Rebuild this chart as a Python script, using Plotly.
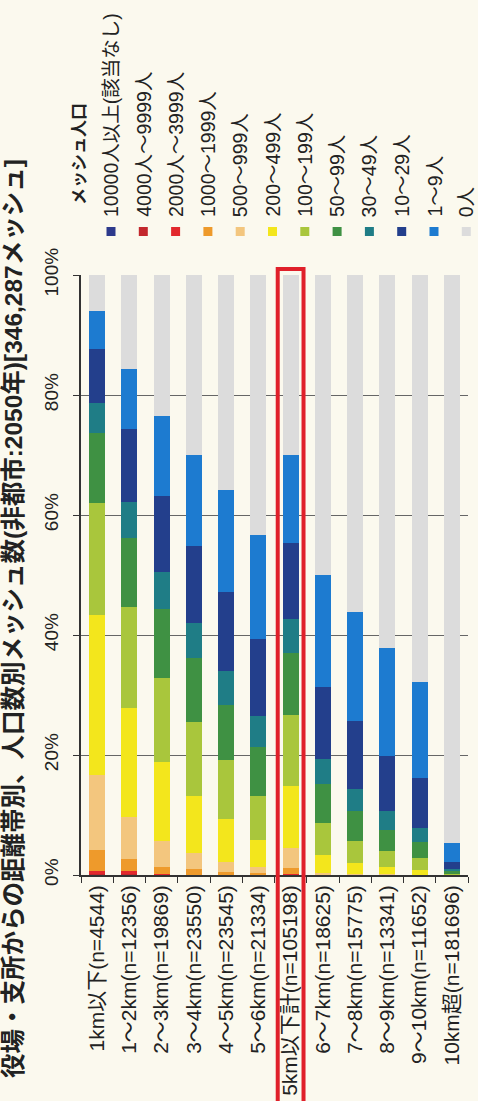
import plotly.graph_objects as go

# Distance bands from the town office / branch office (non-urban areas, 2050)
categories = [
    "1km以下(n=4544)",
    "1～2km(n=12356)",
    "2～3km(n=19869)",
    "3～4km(n=23550)",
    "4～5km(n=23545)",
    "5～6km(n=21334)",
    "5km以下計(n=105198)",
    "6～7km(n=18625)",
    "7～8km(n=15775)",
    "8～9km(n=13341)",
    "9～10km(n=11652)",
    "10km超(n=181696)",
]

# Share of meshes (%) in each population class, per distance band
pop_10000_plus = [0, 0, 0, 0, 0, 0, 0, 0, 0, 0, 0, 0]
pop_4000_9999 = [0.2, 0.2, 0, 0, 0, 0, 0.05, 0, 0, 0, 0, 0]
pop_2000_3999 = [0.5, 0.4, 0.1, 0.05, 0, 0, 0.1, 0, 0, 0, 0, 0]
pop_1000_1999 = [3.5, 2.1, 1.3, 1.0, 0.5, 0.3, 1.0, 0, 0, 0, 0, 0]
pop_500_999 = [12.5, 6.9, 4.3, 2.7, 1.7, 1.0, 3.3, 0.4, 0.2, 0.1, 0, 0]
pop_200_499 = [26.6, 18.2, 13.2, 9.5, 7.1, 4.6, 10.4, 3.0, 1.8, 1.2, 0.9, 0.05]
pop_100_199 = [18.7, 16.9, 13.9, 12.3, 9.8, 7.3, 11.9, 5.3, 3.6, 2.7, 1.9, 0.2]
pop_50_99 = [11.7, 11.5, 11.6, 10.6, 9.2, 8.2, 10.2, 6.4, 5.0, 3.5, 2.7, 0.4]
pop_30_49 = [5.0, 6.0, 6.1, 5.8, 5.7, 5.1, 5.7, 4.3, 3.8, 3.2, 2.3, 0.4]
pop_10_29 = [9.0, 12.1, 12.7, 12.9, 13.2, 12.8, 12.7, 11.9, 11.2, 9.2, 8.4, 1.2]
pop_1_9 = [6.3, 10.0, 13.3, 15.1, 16.9, 17.3, 14.6, 18.7, 18.3, 18.0, 15.9, 3.1]
pop_0 = [6.0, 15.7, 23.5, 30.1, 35.9, 43.4, 30.1, 50.0, 56.1, 62.1, 67.9, 94.65]

series_names = [
    "10000人以上(該当なし)",
    "4000人～9999人",
    "2000人～3999人",
    "1000～1999人",
    "500～999人",
    "200～499人",
    "100～199人",
    "50～99人",
    "30～49人",
    "10～29人",
    "1～9人",
    "0人",
]
series_values = [
    pop_10000_plus, pop_4000_9999, pop_2000_3999, pop_1000_1999,
    pop_500_999, pop_200_499, pop_100_199, pop_50_99,
    pop_30_49, pop_10_29, pop_1_9, pop_0,
]
series_colors = [
    "#2d3a8c", "#c3282d", "#e2282d", "#ee9a2b",
    "#f3c67e", "#f3e61c", "#a9c63c", "#3f9143",
    "#1f7d86", "#233f8c", "#1d7bd0", "#dcdcdc",
]

percent_ticks = [0, 20, 40, 60, 80, 100]
percent_labels = ["0%", "20%", "40%", "60%", "80%", "100%"]

title_text = "役場・支所からの距離帯別、人口数別メッシュ数(非都市:2050年)[346,287メッシュ]"
legend_title = "メッシュ人口"

W, H = 478, 1101
ML, MR, MT, MB = 81, 10, 275, 226
PW, PH = W - ML - MR, H - MT - MB

FONT = "Liberation Sans, Arial, Noto Sans CJK JP, sans-serif"
BG = "#fbf9ee"


def px_x(px):
    return (px - ML) / PW


def px_y(py):
    return (H - MB - py) / PH


fig = go.Figure()
for name, vals, col in zip(series_names, series_values, series_colors):
    fig.add_trace(go.Bar(
        x=categories, y=vals, name=name,
        marker=dict(color=col, line=dict(width=0)),
        showlegend=False,
    ))

annotations = []
shapes = []

# Title, written vertically along the left edge
annotations.append(dict(
    text="<b>" + title_text + "</b>", textangle=-90,
    xref="paper", yref="paper", x=px_x(13), y=px_y(619),
    xanchor="center", yanchor="middle", showarrow=False,
    font=dict(family=FONT, size=24.5, color="#222"),
))

# Legend header and entries, rotated like the rest of the chart
annotations.append(dict(
    text="<b>" + legend_title + "</b>", textangle=-90,
    xref="paper", yref="paper", x=px_x(79), y=px_y(207),
    xanchor="center", yanchor="bottom", showarrow=False,
    font=dict(family=FONT, size=17, color="#222"),
))
for i, (name, col) in enumerate(zip(series_names, series_colors)):
    cx = 111 + 32.3 * i
    annotations.append(dict(
        text=name, textangle=-90,
        xref="paper", yref="paper", x=px_x(cx), y=px_y(219),
        xanchor="center", yanchor="bottom", showarrow=False,
        font=dict(family=FONT, size=19.5, color="#222"),
    ))
    shapes.append(dict(
        type="rect", xref="paper", yref="paper",
        x0=px_x(cx - 4.5), x1=px_x(cx + 4.5),
        y0=px_y(236), y1=px_y(227),
        fillcolor=col, line=dict(width=0),
    ))

# Highlight frame around the 5km subtotal bar
hi = categories.index("5km以下計(n=105198)")
n = len(categories)
shapes.append(dict(
    type="rect", xref="paper", yref="paper",
    x0=(hi + 0.5 - 0.4) / n, x1=(hi + 0.5 + 0.4) / n,
    y0=-0.5, y1=px_y(269),
    line=dict(color="#e0202a", width=4), fillcolor="rgba(0,0,0,0)",
    layer="above",
))

fig.update_layout(
    width=W, height=H,
    margin=dict(l=ML, r=MR, t=MT, b=MB, pad=0, autoexpand=False),
    barmode="stack", bargap=0.5,
    paper_bgcolor=BG, plot_bgcolor=BG,
    font=dict(family=FONT, color="#222"),
    annotations=annotations, shapes=shapes,
    showlegend=False,
)
fig.update_xaxes(
    type="category", range=[-0.5, n - 0.5], automargin=False,
    tickangle=-90, tickfont=dict(size=21, color="#222"),
    ticks="outside", tickson="boundaries", ticklen=6, tickcolor="#333",
    showline=True, linecolor="#333", linewidth=1.5,
    showgrid=False, zeroline=False,
)
fig.update_yaxes(
    range=[0, 100], tickvals=percent_ticks, ticktext=percent_labels,
    automargin=False,
    tickangle=-90, tickfont=dict(size=19, color="#222"),
    ticks="outside", ticklen=6, tickcolor="#333",
    showline=True, linecolor="#333", linewidth=1.5,
    showgrid=True, gridcolor="#666", gridwidth=1,
    zeroline=False, ticklabelstandoff=8,
)

fig.write_html("out.html")
